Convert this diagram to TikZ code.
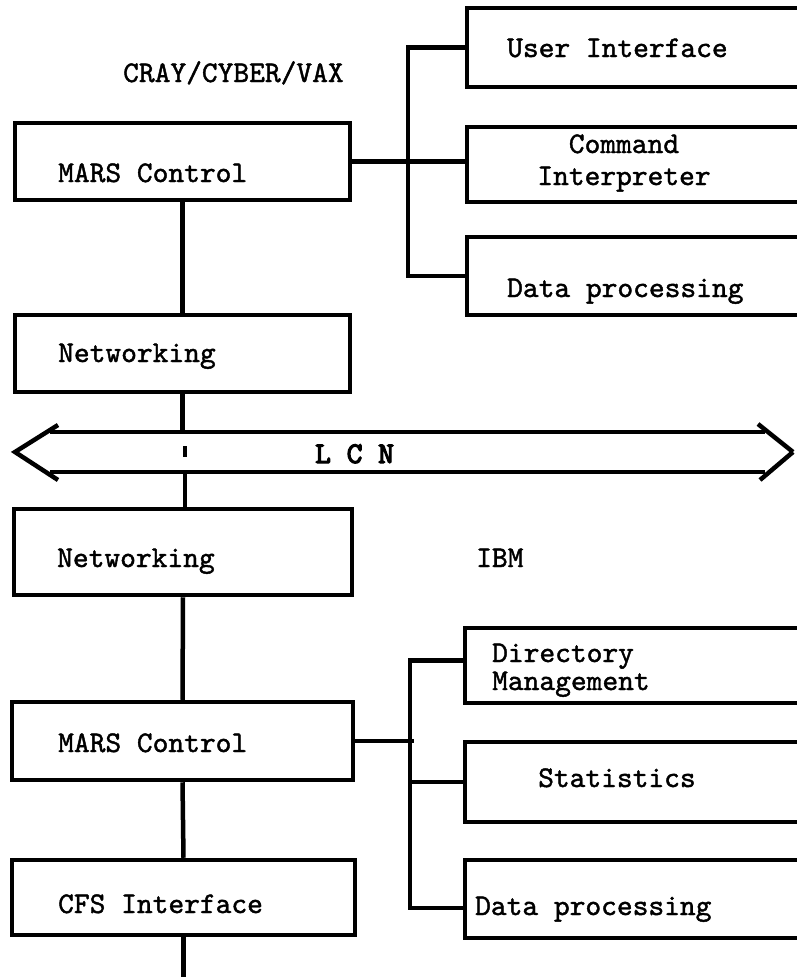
\documentclass[tikz,border=0pt]{standalone}
\usepackage{fontspec}
\usepackage{tikz}
\usetikzlibrary{calc}

\newfontfamily\typer{lmmono10-regular.otf}[FakeBold=1.4]
\newfontfamily\typerbold{lmmono10-regular.otf}[FakeBold=4]

\tikzset{
  box/.style={draw, line width=4.5pt, inner sep=0pt},
  txt/.style={font=\typer\fontsize{30}{32}\selectfont, inner sep=0pt, anchor=base west},
  wire/.style={line width=4.5pt}
}

\begin{document}
\begin{tikzpicture}[x=1pt, y=-1pt]

  \useasboundingbox (0,0) rectangle (797,977);

  % Host side
  \node[txt] (host) at (123,82) {CRAY/CYBER/VAX};
  \node[box, minimum width=335pt, minimum height=77pt] (mars1) at (182.5,161.5) {};
  \node[txt] (mars1t) at (58,182) {MARS Control};
  \node[box, minimum width=335pt, minimum height=77pt] (net1) at (182.5,353.5) {};
  \node[txt] (net1t) at (58,362) {Networking};

  % Host modules
  \node[box, minimum width=348pt, minimum height=79pt] (ui) at (641,47.5) {};
  \node[txt] (uit) at (507,57) {User Interface};
  \node[box, minimum width=348pt, minimum height=75pt] (cmd) at (641,164.5) {};
  \node[txt, anchor=base, align=center] (cmdt) at (624,185) {Command\\Interpreter};
  \node[box, minimum width=348pt, minimum height=78pt] (dp1) at (641,276) {};
  \node[txt] (dp1t) at (507,297) {Data processing};

  % LCN bus
  \coordinate (lcnT) at (185,432);
  \coordinate (lcnB) at (185,472);
  \draw[wire] (58,425) -- (15,452) -- (58,480);
  \draw[wire] (793,452) -- (758,424);
  \draw[wire] (793,452) -- (760,480);
  \draw[wire] (50,432) -- (765,432);
  \draw[wire] (50,472) -- (765,472);
  \node[txt, font=\typerbold\fontsize{30}{32}\selectfont] (lcn) at (315,463) {L C N};
  \draw[line width=4pt] (185,446) -- (185,457);

  % IBM side
  \node[txt] (ibm) at (476,567) {IBM};
  \node[box, minimum width=338pt, minimum height=86pt] (net2) at (183,552) {};
  \node[txt] (net2t) at (57,567) {Networking};
  \node[box, minimum width=341pt, minimum height=78pt] (mars2) at (182.5,741) {};
  \node[txt] (mars2t) at (58,752) {MARS Control};
  \node[box, minimum width=343pt, minimum height=75pt] (cfs) at (183.5,897.5) {};
  \node[txt] (cfst) at (58,913) {CFS Interface};
  \coordinate (down) at (185,977);

  % IBM modules
  \node[box, minimum width=350pt, minimum height=75pt] (dir) at (640,665.5) {};
  \node[txt, align=left] (dirt) at (492,690) {Directory\\[-4pt]Management};
  \node[box, minimum width=350pt, minimum height=80pt] (stat) at (640,782) {};
  \node[txt] (statt) at (538,787) {Statistics};
  \node[box, minimum width=350pt, minimum height=78pt] (dp2) at (640,899) {};
  \node[txt] (dp2t) at (475,915) {Data processing};

  % Vertical links
  \draw[wire] (mars1.south) -- (net1.north);
  \draw[wire] (net1.south) -- (net1.south |- lcnT);
  \draw[wire] (lcnB) -- (lcnB |- net2.north);
  \draw[wire] (net2.south) -- (mars2.north);
  \draw[wire] (mars2.south) -- (cfs.north);
  \draw[wire] (cfs.south) -- (cfs.south |- down);

  % Module brackets
  \draw[wire] (mars1.east) -- (mars1.east -| cmd.west);
  \draw[wire] (ui.west) -- ++(-57,0) |- (dp1.west);
  \draw[wire] (mars2.east) -- ++(59,0);
  \draw[wire] ([yshift=5pt]dir.west) -- ++(-53,0) |- ([yshift=-9pt]dp2.west);
  \draw[wire] (stat.west) -- ++(-53,0);

\end{tikzpicture}
\end{document}
